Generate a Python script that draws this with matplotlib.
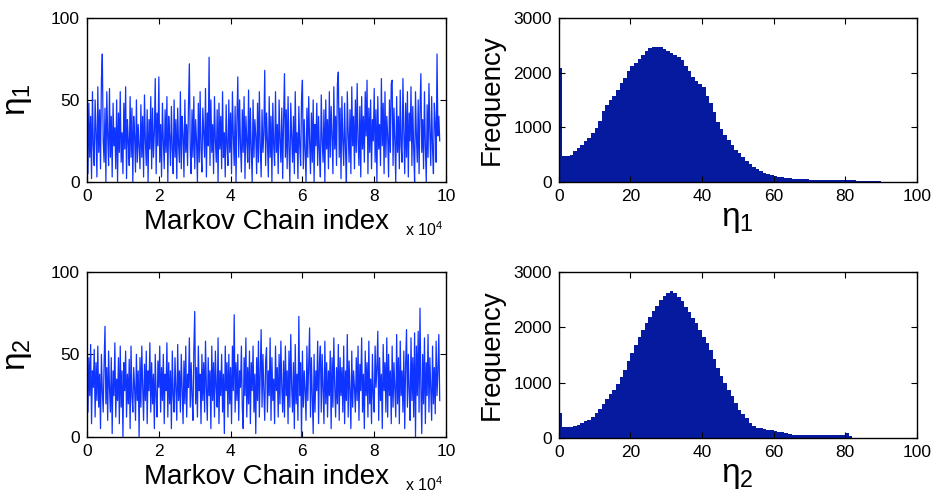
import numpy as np
import matplotlib
matplotlib.use('Agg')
import matplotlib.pyplot as plt

plt.rcParams['font.family'] = ['Liberation Sans', 'DejaVu Sans']
# upright greek in labels, like the original
plt.rcParams['mathtext.fontset'] = 'custom'
plt.rcParams['mathtext.rm'] = 'Liberation Sans'
plt.rcParams['mathtext.it'] = 'Liberation Sans'
plt.rcParams['mathtext.bf'] = 'Liberation Sans'

# Markov chain traces (every 250th sample)
thin = 250
eta1_trace = [
    52, 5, 48, 15, 40, 2, 55, 22, 10, 50, 30, 3, 58, 18, 44, 8, 62, 78, 25, 12,
    45, 0, 55, 28, 10, 57, 15, 40, 3, 48, 22, 33, 8, 50, 0, 42, 18, 55, 12, 30,
    5, 48, 20, 58, 2, 38, 25, 10, 52, 15, 45, 0, 40, 28, 6, 50, 12, 35, 22, 8,
    47, 15, 40, 3, 53, 25, 10, 44, 0, 38, 20, 52, 8, 45, 15, 30, 63, 5, 42, 22,
    64, 12, 35, 3, 48, 25, 8, 44, 18, 52, 0, 40, 28, 10, 46, 20, 5, 50, 15, 38,
    2, 45, 22, 12, 55, 8, 40, 28, 3, 50, 18, 35, 10, 46, 72, 20, 5, 44, 15, 52,
    8, 38, 25, 0, 48, 12, 55, 20, 6, 45, 30, 15, 57, 3, 42, 22, 76, 10, 50, 18,
    35, 5, 52, 25, 12, 44, 0, 48, 20, 40, 8, 55, 15, 30, 3, 47, 22, 10, 50, 18,
    42, 5, 55, 28, 10, 46, 0, 38, 64, 15, 50, 22, 6, 44, 18, 52, 2, 40, 25, 12,
    56, 8, 45, 20, 0, 50, 15, 38, 28, 5, 48, 12, 55, 22, 3, 44, 18, 30, 68, 10,
    42, 25, 3, 52, 15, 40, 0, 48, 22, 10, 55, 18, 35, 5, 50, 25, 12, 45, 2, 38,
    66, 15, 44, 8, 52, 20, 0, 48, 28, 12, 40, 5, 55, 18, 30, 2, 46, 22, 10, 50,
    62, 8, 38, 20, 0, 45, 15, 52, 25, 5, 42, 12, 50, 0, 35, 22, 48, 10, 40, 18,
    3, 53, 25, 12, 44, 0, 50, 20, 38, 8, 55, 15, 46, 28, 5, 58, 20, 40, 10, 60,
    67, 15, 45, 2, 52, 25, 10, 48, 20, 0, 55, 30, 12, 44, 5, 58, 22, 40, 8, 50,
    18, 60, 25, 10, 46, 3, 52, 20, 40, 12, 55, 28, 62, 5, 45, 18, 50, 8, 38, 25,
    57, 12, 44, 0, 52, 20, 35, 10, 63, 22, 48, 5, 55, 15, 40, 28, 3, 50, 18, 60,
    62, 10, 45, 25, 0, 52, 18, 40, 8, 56, 22, 12, 63, 30, 5, 48, 15, 55, 3, 42,
    25, 58, 10, 46, 20, 0, 55, 28, 12, 50, 5, 44, 66, 18, 38, 8, 55, 22, 0, 47,
    15, 60, 30, 10, 52, 20, 5, 48, 35, 12, 78, 28, 40, 25,
]
eta2_trace = [
    60, 15, 48, 25, 56, 8, 40, 30, 53, 12, 45, 22, 55, 18, 38, 5, 50, 28, 15, 44,
    67, 20, 42, 10, 52, 30, 15, 48, 2, 40, 25, 57, 12, 35, 22, 48, 8, 55, 18, 40,
    0, 45, 28, 52, 12, 38, 20, 47, 5, 55, 25, 15, 42, 30, 10, 50, 22, 40, 0, 48,
    18, 55, 30, 10, 44, 22, 52, 8, 40, 28, 57, 15, 45, 20, 38, 5, 50, 25, 12, 46,
    30, 55, 15, 42, 22, 50, 8, 38, 28, 57, 12, 45, 20, 40, 5, 52, 25, 15, 48, 30,
    10, 56, 22, 40, 15, 50, 28, 8, 46, 20, 55, 12, 38, 30, 60, 18, 45, 25, 10, 52,
    76, 20, 42, 12, 55, 28, 38, 8, 50, 22, 45, 15, 58, 30, 10, 48, 25, 40, 5, 55,
    22, 45, 12, 52, 30, 18, 60, 8, 40, 25, 50, 15, 38, 2, 55, 28, 45, 12, 50, 20,
    42, 8, 55, 28, 74, 15, 45, 22, 50, 10, 40, 30, 55, 18, 5, 48, 25, 60, 12, 42,
    20, 52, 8, 45, 28, 55, 15, 38, 2, 48, 22, 58, 12, 40, 65, 18, 50, 28, 10, 46,
    54, 15, 40, 25, 60, 10, 48, 22, 35, 8, 55, 28, 42, 12, 50, 20, 58, 30, 15, 46,
    12, 55, 25, 40, 8, 52, 18, 62, 30, 15, 45, 5, 56, 20, 38, 10, 73, 25, 45, 0,
    52, 18, 40, 28, 10, 55, 22, 45, 66, 12, 48, 25, 2, 50, 15, 40, 28, 58, 8, 45,
    55, 15, 50, 28, 8, 58, 20, 45, 12, 40, 25, 52, 5, 48, 18, 60, 30, 12, 42, 20,
    56, 10, 48, 25, 42, 15, 55, 8, 40, 22, 62, 12, 46, 28, 5, 52, 18, 40, 30, 15,
    48, 22, 55, 10, 44, 28, 60, 15, 38, 5, 52, 25, 45, 12, 58, 20, 35, 8, 50, 25,
    15, 55, 30, 42, 64, 10, 48, 22, 38, 5, 56, 28, 45, 15, 60, 12, 50, 25, 40, 8,
    55, 18, 45, 28, 12, 62, 20, 48, 8, 58, 25, 40, 15, 52, 5, 44, 65, 18, 50, 28,
    10, 60, 22, 48, 12, 63, 0, 55, 25, 64, 15, 78, 30, 2, 50, 20, 60, 8, 45, 25,
    62, 15, 48, 30, 10, 55, 20, 42, 14, 58, 25, 40, 62, 22,
]

# histogram counts, unit-wide bins starting at 0
eta1_counts = [
    2090, 480, 470, 500, 560, 620, 680, 740, 810, 900,
    990, 1120, 1300, 1400, 1500, 1580, 1680, 1800, 1900, 2030,
    2120, 2180, 2250, 2320, 2400, 2450, 2470, 2470, 2460, 2430,
    2400, 2360, 2320, 2280, 2230, 2120, 2030, 1920, 1840, 1790,
    1740, 1580, 1450, 1280, 1100, 960, 860, 760, 680, 580,
    520, 450, 380, 330, 280, 240, 200, 170, 145, 125,
    110, 95, 85, 75, 68, 60, 50, 48, 46, 44,
    42, 40, 38, 37, 36, 35, 34, 33, 32, 31,
    30, 28, 27, 25, 24, 22, 20, 18, 15, 10,
]
eta2_counts = [
    450, 200, 190, 200, 215, 240, 270, 300, 330, 380,
    450, 530, 620, 700, 790, 870, 980, 1100, 1230, 1380,
    1530, 1680, 1830, 1950, 2070, 2190, 2290, 2390, 2490, 2560,
    2610, 2660, 2610, 2550, 2470, 2370, 2270, 2170, 2070, 1950,
    1830, 1710, 1590, 1430, 1270, 1110, 990, 870, 750, 630,
    510, 430, 350, 270, 220, 180, 170, 160, 150, 140,
    120, 110, 100, 90, 75, 60, 55, 52, 50, 48,
    48, 47, 47, 46, 46, 45, 45, 45, 44, 44,
    80, 30,
]

trace_xticks = [0, 20000, 40000, 60000, 80000, 100000]
trace_xticklabels = ['0', '2', '4', '6', '8', '10']
trace_yticks = [0, 50, 100]
hist_xticks = [0, 20, 40, 60, 80, 100]
hist_yticks = [0, 1000, 2000, 3000]

line_color = '#1034ff'
bar_color = '#061aa0'


def style_axes(ax):
    ax.tick_params(direction='in', top=True, right=True, length=4,
                   width=0.8, labelsize=12.5, pad=5)
    for s in ax.spines.values():
        s.set_linewidth(1.0)


def draw_trace(ax, trace, name):
    x = np.arange(len(trace)) * thin
    ax.plot(x, trace, color=line_color, linewidth=0.9)
    ax.set_xlim(0, 100000)
    ax.set_ylim(0, 100)
    ax.set_xticks(trace_xticks)
    ax.set_xticklabels(trace_xticklabels)
    ax.set_yticks(trace_yticks)
    ax.set_xlabel('Markov Chain index', fontsize=20, labelpad=4)
    ax.set_ylabel(name, fontsize=24, labelpad=12)
    ax.text(0.885, -0.29, r'x 10$^4$', transform=ax.transAxes, fontsize=11.5,
            va='center', ha='left')
    style_axes(ax)


def draw_hist(ax, counts, name):
    edges = np.arange(len(counts) + 1)
    ax.stairs(counts, edges, fill=True, color=bar_color, linewidth=0)
    ax.set_xlim(0, 100)
    ax.set_ylim(0, 3000)
    ax.set_xticks(hist_xticks)
    ax.set_yticks(hist_yticks)
    ax.set_xlabel(name, fontsize=24, labelpad=0)
    ax.set_ylabel('Frequency', fontsize=20, labelpad=6)
    style_axes(ax)


fig = plt.figure(figsize=(9.36, 4.97), dpi=100)
ax1 = fig.add_axes([0.093, 0.634, 0.3835, 0.330])
ax2 = fig.add_axes([0.597, 0.634, 0.3825, 0.330])
ax3 = fig.add_axes([0.093, 0.121, 0.3835, 0.332])
ax4 = fig.add_axes([0.597, 0.119, 0.3825, 0.334])

draw_trace(ax1, eta1_trace, r'η$_1$')
draw_hist(ax2, eta1_counts, r'η$_1$')
draw_trace(ax3, eta2_trace, r'η$_2$')
draw_hist(ax4, eta2_counts, r'η$_2$')

fig.savefig('out.png', dpi=100)
